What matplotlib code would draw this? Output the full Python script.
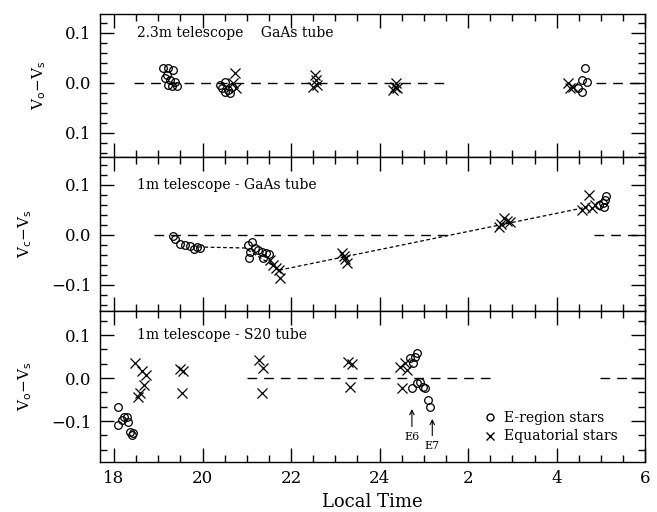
import matplotlib
matplotlib.use("Agg")
import matplotlib.pyplot as plt
from matplotlib.ticker import MultipleLocator, FixedLocator

plt.rcParams["font.family"] = ["DejaVu Serif"]

# local time in hours (after midnight written as 24+h)
hour_ticks = [18, 20, 22, 24, 26, 28, 30]
hour_labels = ["18", "20", "22", "24", "2", "4", "6"]

# panel 1: 2.3m telescope, GaAs tube
top_circ_t = [19.11, 19.22, 19.33, 19.20, 19.15, 19.27, 19.38, 19.22, 19.42, 19.31,
              20.40, 20.51, 20.44, 20.58, 20.51, 20.62, 20.67,
              28.64, 28.58, 28.69, 28.49, 28.58]
top_circ_v = [0.030, 0.030, 0.026, 0.016, 0.010, 0.006, 0.002, -0.004, -0.006, -0.006,
              -0.004, 0.002, -0.010, -0.014, -0.018, -0.020, -0.008,
              0.030, 0.006, 0.002, -0.010, -0.018]
top_x_t = [20.73, 20.69, 20.76, 22.54, 22.56, 22.50, 22.58,
           24.35, 24.31, 24.40, 24.38, 28.26, 28.30, 28.37]
top_x_v = [0.020, 0.000, -0.010, 0.016, 0.006, -0.008, -0.004,
           -0.008, -0.014, -0.010, 0.000, 0.000, -0.010, -0.008]

# panel 2: 1m telescope, GaAs tube
mid_circ_t = [19.33, 19.38, 19.49, 19.60, 19.72, 19.80, 19.88, 19.94,
              21.03, 21.12, 21.19, 21.07, 21.05, 21.25, 21.34, 21.43, 21.50, 21.37,
              28.95, 29.04, 29.10, 29.12, 29.08]
mid_circ_v = [-0.002, -0.008, -0.018, -0.020, -0.022, -0.028, -0.024, -0.026,
              -0.020, -0.014, -0.026, -0.034, -0.046, -0.030, -0.034, -0.036, -0.038, -0.046,
              0.060, 0.064, 0.070, 0.078, 0.056]
mid_x_t = [21.53, 21.59, 21.66, 21.73, 21.75,
           23.15, 23.20, 23.22, 23.27,
           26.70, 26.75, 26.80, 26.88, 26.95,
           28.58, 28.65, 28.72, 28.80, 28.87]
mid_x_v = [-0.050, -0.060, -0.066, -0.070, -0.086,
           -0.036, -0.042, -0.048, -0.056,
           0.016, 0.022, 0.034, 0.028, 0.026,
           0.050, 0.056, 0.080, 0.054, 0.060]
fit_t = [19.9, 20.95, 21.75, 28.7]
fit_v = [-0.024, -0.026, -0.070, 0.056]

# panel 3: 1m telescope, S20 tube
bot_circ_t = [18.09, 18.09, 18.18, 18.23, 18.29, 18.32, 18.36, 18.43, 18.41,
              24.69, 24.80, 24.85, 24.76, 24.74, 24.85, 24.92, 24.97, 25.03, 25.10, 25.14]
bot_circ_v = [-0.067, -0.109, -0.098, -0.091, -0.091, -0.102, -0.126, -0.128, -0.133,
              0.047, 0.049, 0.058, 0.035, -0.023, -0.012, -0.009, -0.021, -0.023, -0.051, -0.067]
bot_x_t = [18.47, 18.63, 18.72, 18.68, 18.59, 18.54,
           19.49, 19.56, 19.54,
           21.28, 21.37, 21.34,
           23.29, 23.38, 23.33,
           24.46, 24.58, 24.62, 24.50]
bot_x_v = [0.035, 0.016, 0.007, -0.016, -0.035, -0.044,
           0.021, 0.016, -0.035,
           0.042, 0.023, -0.035,
           0.037, 0.033, -0.021,
           0.026, 0.035, 0.019, -0.023]

panels = [
    dict(rect=[0.152, 0.6934, 0.830, 0.2793], ylim=(-0.148, 0.138), minor=0.02,
         ylab=r"V$_{\rm o}$$-$V$_{\rm s}$", title="2.3m telescope    GaAs tube",
         yticks=[-0.1, 0.0, 0.1], ylabels=["0.1", "0.0", "0.1"],
         zero=[(18.45, 25.55), (28.9, 30.0)],
         ct=top_circ_t, cv=top_circ_v, xt=top_x_t, xv=top_x_v),
    dict(rect=[0.152, 0.3926, 0.830, 0.3008], ylim=(-0.152, 0.156), minor=0.02,
         ylab=r"V$_{\rm c}$$-$V$_{\rm s}$", title="1m telescope - GaAs tube",
         yticks=[-0.1, 0.0, 0.1], ylabels=["\u22120.1", "0.0", "0.1"],
         zero=[(18.9, 25.6), (28.85, 30.0)],
         ct=mid_circ_t, cv=mid_circ_v, xt=mid_x_t, xv=mid_x_v),
    dict(rect=[0.152, 0.0977, 0.830, 0.2949], ylim=(-0.195, 0.156), minor=0.1 / 3,
         ylab=r"V$_{\rm o}$$-$V$_{\rm s}$", title="1m telescope - S20 tube",
         yticks=[-0.1, 0.0, 0.1], ylabels=["\u22120.1", "0.0", "0.1"],
         zero=[(21.0, 26.5), (28.98, 30.0)],
         ct=bot_circ_t, cv=bot_circ_v, xt=bot_x_t, xv=bot_x_v),
]

fig = plt.figure(figsize=(6.57, 5.12), dpi=100)

axes = []
for p in panels:
    ax = fig.add_axes(p["rect"])
    axes.append(ax)
    ax.set_xlim(17.68, 30.0)
    ax.set_ylim(*p["ylim"])

    for a, b in p["zero"]:
        ax.plot([a, b], [0, 0], color="black", lw=1.0, dashes=(7, 5))

    ax.plot(p["ct"], p["cv"], linestyle="none", marker="o", markersize=5.5,
            markerfacecolor="none", markeredgecolor="black", markeredgewidth=0.9)
    ax.plot(p["xt"], p["xv"], linestyle="none", marker="x", markersize=6.5,
            color="black", markeredgewidth=0.9)

    ax.text(0.068, (0.1 - p["ylim"][0]) / (p["ylim"][1] - p["ylim"][0]), p["title"],
            transform=ax.transAxes, fontsize=10, va="center", ha="left")

    ax.set_ylabel(p["ylab"], fontsize=11, labelpad=12)
    ax.yaxis.set_major_locator(FixedLocator(p["yticks"]))
    ax.set_yticklabels(p["ylabels"])
    ax.yaxis.set_minor_locator(MultipleLocator(p["minor"]))
    ax.xaxis.set_major_locator(FixedLocator(hour_ticks))
    ax.xaxis.set_minor_locator(MultipleLocator(0.5))
    ax.tick_params(which="both", direction="in", top=True, right=True, width=1.0)
    ax.tick_params(which="major", length=10, labelsize=12, pad=6)
    ax.tick_params(which="minor", length=5)
    for s in ax.spines.values():
        s.set_linewidth(1.0)

for ax in axes[:2]:
    ax.set_xticklabels([])

# fitted drift in the middle panel
axes[1].plot(fit_t, fit_v, color="black", lw=0.9, dashes=(3, 2))

ax = axes[2]
ax.set_xticklabels(hour_labels)
ax.set_xlabel("Local Time", fontsize=13, labelpad=4)

ax.annotate("E6", xy=(24.73, -0.072), xytext=(24.73, -0.137), fontsize=8,
            ha="center", va="center",
            arrowprops=dict(arrowstyle="->", lw=0.8, color="black", shrinkB=0))
ax.annotate("E7", xy=(25.19, -0.095), xytext=(25.19, -0.158), fontsize=8,
            ha="center", va="center",
            arrowprops=dict(arrowstyle="->", lw=0.8, color="black", shrinkB=0))

h1, = ax.plot([], [], linestyle="none", marker="o", markersize=5,
              markerfacecolor="none", markeredgecolor="black")
h2, = ax.plot([], [], linestyle="none", marker="x", markersize=6, color="black")
ax.legend([h1, h2], ["E-region stars", "Equatorial stars"], loc="lower left",
          bbox_to_anchor=(0.68, 0.04), frameon=False, fontsize=10,
          handlelength=1.0, handletextpad=0.5, labelspacing=0.3)

plt.savefig("out.png", dpi=100)
